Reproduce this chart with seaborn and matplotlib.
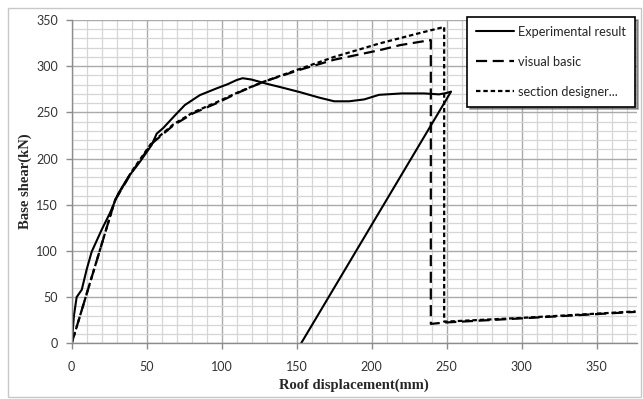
import matplotlib
matplotlib.use("Agg")
import matplotlib.pyplot as plt
from matplotlib.patches import Rectangle
from matplotlib.ticker import MultipleLocator
import seaborn as sns

# curves (displacement mm, base shear kN)
exp_x = [0, 1.5, 3.3, 6.7, 10, 13.3, 20, 25.5, 31, 37.7, 45.5, 53.3, 56.7, 61, 69,
         75.5, 85.5, 96.7, 104, 110, 114, 120, 130, 140, 152, 165, 175, 185, 195, 205,
         220, 235, 245, 250, 253, 153]
exp_y = [0, 30, 50, 58, 80, 99, 123, 141, 162, 180, 196.5, 214.6, 227, 233, 247,
         258, 268.7, 276, 280.5, 285, 287, 285.5, 281, 277, 272, 266, 262, 262, 264, 269,
         270.5, 270.5, 269.5, 271, 272.5, 0]

vb_x = [0, 28.9, 40, 53.3, 67.8, 81, 96.7, 112, 127.7, 152, 175, 205.5, 219, 239.5,
        239.5, 249, 300, 376]
vb_y = [0, 155, 185, 216, 236, 249, 260, 272, 283, 296, 307, 317.4, 322.8, 328.3,
        21, 22.5, 27, 34]

sd_x = [0, 28.9, 40, 53.3, 67.8, 81, 96.7, 112, 127.7, 152, 175, 205.5, 230, 248.4,
        248.4, 300, 376]
sd_y = [0, 155, 186, 217, 237, 250, 261, 272.5, 283, 297, 310, 324.7, 335, 342.5,
        23.4, 27.5, 34.5]

labels = ["Experimental result", "visual basic", "section designer..."]

sns.set_theme(style="white")
plt.rcParams['font.family'] = ['Lato', 'DejaVu Sans']

fig = plt.figure(figsize=(6.43, 3.99), dpi=100)
ax = fig.add_axes([71.7 / 643, (399 - 343.3) / 399, (637 - 71.7) / 643, (343.3 - 20) / 399])

sns.lineplot(x=exp_x, y=exp_y, sort=False, estimator=None, ax=ax, color="black",
             lw=1.5, label=labels[0])
sns.lineplot(x=vb_x, y=vb_y, sort=False, estimator=None, ax=ax, color="black",
             lw=1.6, linestyle=(0, (5, 2.5)), label=labels[1])
sns.lineplot(x=sd_x, y=sd_y, sort=False, estimator=None, ax=ax, color="black",
             lw=1.6, linestyle=(0, (2, 1.3)), label=labels[2])

ax.set_xlim(0, 377)
ax.set_ylim(0, 350)
ax.xaxis.set_major_locator(MultipleLocator(50))
ax.xaxis.set_minor_locator(MultipleLocator(10))
ax.yaxis.set_major_locator(MultipleLocator(50))
ax.yaxis.set_minor_locator(MultipleLocator(10))
ax.grid(which="minor", color="#d6d6d6", lw=0.9)
ax.grid(which="major", color="#aaaaaa", lw=1.0)
ax.set_axisbelow(True)

for s in ["top", "right"]:
    ax.spines[s].set_visible(False)
for s in ["left", "bottom"]:
    ax.spines[s].set_color("#8c8c8c")
    ax.spines[s].set_linewidth(1.0)

ax.tick_params(which="major", direction="out", length=4, width=1, color="#8c8c8c",
               labelsize=9, labelcolor="#333333", pad=6, left=True, bottom=True)
ax.tick_params(axis="x", pad=9)
ax.tick_params(which="minor", length=0)

ax.set_xlabel("Roof displacement(mm)", family="Liberation Serif", fontweight="bold",
              fontsize=10.5, labelpad=4)
ax.set_ylabel("Base shear(kN)", family="Liberation Serif", fontweight="bold",
              fontsize=10.5, labelpad=3)

leg = ax.legend(loc="upper right", bbox_to_anchor=(0.9965, 1.0093), borderaxespad=0,
                fontsize=9.2, handlelength=3.0, handletextpad=0.3, labelspacing=1.4,
                borderpad=0.7, fancybox=False, shadow=True, framealpha=1)
leg.get_frame().set_edgecolor("black")
leg.get_frame().set_linewidth(1.2)

# chart area border
fig.patches.append(Rectangle((8 / 643, 2 / 399), 633 / 643, 389 / 399,
                             transform=fig.transFigure, fill=False,
                             edgecolor="#c8c8c8", lw=1.0))

fig.savefig("out.png", dpi=100)
